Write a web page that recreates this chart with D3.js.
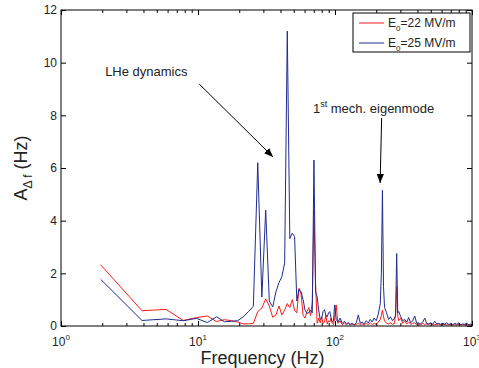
<!DOCTYPE html>
<html>
<head>
<meta charset="utf-8">
<script src="https://d3js.org/d3.v7.min.js"></script>
<style>
  body { margin: 0; background: #fff; }
  svg { font-family: "Liberation Sans", Arial, sans-serif; }
</style>
</head>
<body>
<div id="chart"></div>
<script>
// frequency bins (Hz), dense below 100 Hz, thinned above
const freq = [1.95, 3.9, 5.85, 7.8, 9.75, 11.7, 13.65, 15.6, 17.55, 19.5, 21.45, 23.4, 25.35, 27.3, 29.25,
  31.2, 33.15, 35.1, 37.05, 39, 40.95, 42.9, 44.85, 46.8, 48.75, 50.7, 52.65, 54.6, 56.55, 58.5,
  60.45, 62.4, 64.35, 66.3, 68.25, 70.2, 72.15, 74.1, 76.05, 78, 79.95, 81.9, 83.85, 85.8, 87.75,
  89.7, 91.65, 93.6, 95.55, 97.5, 99.45,
  102, 105, 109, 113, 117, 121, 125, 129, 133, 138, 143, 148, 153, 158, 163, 169, 175, 181, 187, 193,
  200, 207, 214, 218, 222, 226, 230, 238, 246, 254, 263, 272, 277, 282, 287, 292, 302, 312, 323, 334,
  345, 357, 369, 382, 395, 408, 422, 437, 452, 467, 483, 500, 517, 535, 553, 572, 592, 612, 633, 655,
  677, 700, 724, 749, 775, 801, 829, 857, 886, 917, 948, 980, 1000];

// E0 = 22 MV/m
const amp22 = [2.32, 0.58, 0.63, 0.21, 0.32, 0.38, 0.17, 0.24, 0.2, 0.15, 0.08, 0.08, 0.1, 0.55, 0.68,
  1.03, 0.76, 0.33, 0.42, 0.76, 0.42, 0.6, 0.85, 0.7, 1.0, 0.6, 0.5, 1.43, 1.2, 0.4,
  0.3, 0.55, 0.7, 0.4, 0.9, 4.4, 1.6, 0.1, 0.3, 0.12, 0.35, 0.1, 0.15, 0.42, 0.08,
  0.2, 0.15, 0.3, 0.1, 0.05, 0.3,
  0.8, 0.1, 0.2, 0.05, 0.12, 0.05, 0.1, 0.04, 0.08, 0.04, 0.06, 0.1, 0.05, 0.08, 0.04, 0.1, 0.06, 0.12, 0.05, 0.1,
  0.06, 0.15, 0.25, 0.4, 0.6, 0.35, 0.2, 0.1, 0.08, 0.12, 0.06, 0.1, 0.5, 1.5, 0.4, 0.2, 0.3, 0.1, 0.2, 0.08,
  0.15, 0.06, 0.1, 0.12, 0.05, 0.08, 0.04, 0.1, 0.06, 0.08, 0.05, 0.1, 0.04, 0.06, 0.05, 0.08, 0.04, 0.05, 0.06, 0.04,
  0.05, 0.07, 0.04, 0.05, 0.04, 0.06, 0.04, 0.05, 0.04, 0.05, 0.03, 0.04, 0.04];

// E0 = 25 MV/m
const amp25 = [1.77, 0.21, 0.27, 0.2, 0.29, 0.13, 0.35, 0.16, 0.18, 0.2, 0.35, 0.55, 0.75, 6.2, 1.1,
  4.4, 0.95, 0.72, 1.3, 1.65, 1.87, 2.4, 11.2, 3.32, 3.52, 3.4, 0.95, 1.4, 1.3, 1.0,
  0.6, 0.48, 0.5, 0.6, 0.5, 6.3, 1.3, 1.1, 0.6, 0.25, 0.3, 0.55, 0.62, 0.4, 0.35,
  0.5, 0.55, 0.3, 0.15, 0.2, 0.8,
  0.25, 0.15, 0.3, 0.1, 0.18, 0.08, 0.12, 0.06, 0.1, 0.05, 0.12, 0.42, 0.1, 0.15, 0.08, 0.2, 0.12, 0.25, 0.15, 0.3,
  0.2, 0.45, 0.85, 2.0, 5.15, 1.5, 0.7, 0.5, 0.25, 0.35, 0.2, 0.3, 0.4, 2.75, 0.5, 0.55, 0.35, 0.2, 0.25, 0.15,
  0.32, 0.12, 0.2, 0.38, 0.1, 0.12, 0.08, 0.15, 0.3, 0.1, 0.08, 0.12, 0.07, 0.18, 0.08, 0.1, 0.06, 0.1, 0.07, 0.12,
  0.06, 0.08, 0.05, 0.1, 0.06, 0.12, 0.05, 0.08, 0.06, 0.1, 0.05, 0.07, 0.05];

const seriesLabels = ["=22 MV/m", "=25 MV/m"];
const seriesColors = ["#ff1a1a", "#1f2c8f"];
const yTicks = [0, 2, 4, 6, 8, 10, 12];
const xMajor = [1, 10, 100, 1000];
const xExp = ["0", "1", "2", "3"];

var W = 479, H = 368;
var m = {left: 61, right: 7, top: 10, bottom: 42};
var w = W - m.left - m.right, h = H - m.top - m.bottom;

var x = d3.scaleLog().domain([1, 1000]).range([0, w]);
var y = d3.scaleLinear().domain([0, 12]).range([h, 0]);

var xMinor = [];
xMajor.slice(0, 3).forEach(function(d) { for (var i = 2; i < 10; i++) xMinor.push(d * i); });

var svg = d3.select("#chart").append("svg").attr("width", W).attr("height", H);
var g = svg.append("g").attr("transform", "translate(" + m.left + "," + m.top + ")");

// lines, red first then blue on top
var line = d3.line().x(function(d) { return x(d[0]); }).y(function(d) { return y(d[1]); });
[amp22, amp25].forEach(function(a, i) {
  g.append("path")
    .datum(freq.map(function(f, j) { return [f, a[j]]; }))
    .attr("fill", "none").attr("stroke", seriesColors[i]).attr("stroke-width", 1)
    .attr("d", line);
});

// axes, ticks pointing inward
function strip(sel) { sel.select(".domain").remove(); sel.selectAll("line").attr("stroke", "#000"); }
g.append("g").attr("transform", "translate(0," + h + ")")
  .call(d3.axisBottom(x).tickValues(xMajor).tickSize(-5).tickFormat("")).call(strip);
g.append("g").attr("transform", "translate(0," + h + ")")
  .call(d3.axisBottom(x).tickValues(xMinor).tickSize(-3).tickFormat("")).call(strip);
g.append("g").call(d3.axisTop(x).tickValues(xMajor).tickSize(-5).tickFormat("")).call(strip);
g.append("g").call(d3.axisTop(x).tickValues(xMinor).tickSize(-3).tickFormat("")).call(strip);
g.append("g").call(d3.axisLeft(y).tickValues(yTicks).tickSize(-5).tickPadding(4)).call(strip)
  .selectAll("text").attr("font-size", 12).attr("fill", "#222");
g.append("g").attr("transform", "translate(" + w + ",0)")
  .call(d3.axisRight(y).tickValues(yTicks).tickSize(-5).tickFormat("")).call(strip);

// x tick labels 10^n
xMajor.forEach(function(d, i) {
  var t = g.append("text").attr("x", x(d)).attr("y", h + 20).attr("text-anchor", "middle")
    .attr("font-size", 12).attr("fill", "#222");
  t.append("tspan").text("10");
  t.append("tspan").attr("dy", -6).attr("font-size", 8).text(xExp[i]);
});

g.append("rect").attr("width", w).attr("height", h)
  .attr("fill", "none").attr("stroke", "#000").attr("stroke-width", 1);

// axis titles
svg.append("text").attr("x", m.left + w / 2 - 4).attr("y", 364).attr("text-anchor", "middle")
  .attr("font-size", 18).attr("fill", "#222").text("Frequency (Hz)");
var yl = svg.append("text").attr("transform", "translate(27,168) rotate(-90)")
  .attr("text-anchor", "middle").attr("font-size", 18).attr("fill", "#222");
yl.append("tspan").text("A");
yl.append("tspan").attr("dy", 5).attr("font-size", 12).text("\u0394 f");
yl.append("tspan").attr("dy", -5).text(" (Hz)");

// annotations
var defs = svg.append("defs");
defs.append("marker").attr("id", "ah").attr("viewBox", "0 0 10 10").attr("refX", 10).attr("refY", 5)
  .attr("markerWidth", 9).attr("markerHeight", 9).attr("markerUnits", "userSpaceOnUse").attr("orient", "auto")
  .append("path").attr("d", "M0,1 L10,5 L0,9 Z").attr("fill", "#000");

g.append("text").attr("x", x(2.1)).attr("y", y(9.5)).attr("font-size", 13).attr("fill", "#222").text("LHe dynamics");
g.append("line").attr("x1", x(10.2)).attr("y1", y(9.19)).attr("x2", x(35.3)).attr("y2", y(6.42))
  .attr("stroke", "#000").attr("marker-end", "url(#ah)");

var et = g.append("text").attr("x", x(69)).attr("y", y(8.09)).attr("font-size", 13).attr("fill", "#222");
et.append("tspan").text("1");
et.append("tspan").attr("dy", -6).attr("font-size", 9).text("st");
et.append("tspan").attr("dy", 6).text(" mech. eigenmode");
g.append("line").attr("x1", x(219)).attr("y1", y(7.9)).attr("x2", x(213.5)).attr("y2", y(5.43))
  .attr("stroke", "#000").attr("marker-end", "url(#ah)");

// legend
var lg = svg.append("g").attr("transform", "translate(353,13)");
lg.append("rect").attr("width", 117).attr("height", 39).attr("fill", "#fff").attr("stroke", "#000");
seriesLabels.forEach(function(s, i) {
  var yy = 10 + i * 20;
  lg.append("line").attr("x1", 6).attr("x2", 31).attr("y1", yy).attr("y2", yy)
    .attr("stroke", seriesColors[i]);
  var t = lg.append("text").attr("x", 35).attr("y", yy + 4).attr("font-size", 12).attr("fill", "#222");
  t.append("tspan").text("E");
  t.append("tspan").attr("dy", 4).attr("font-size", 8).text("0");
  t.append("tspan").attr("dy", -4).text(s);
});
</script>
</body>
</html>
